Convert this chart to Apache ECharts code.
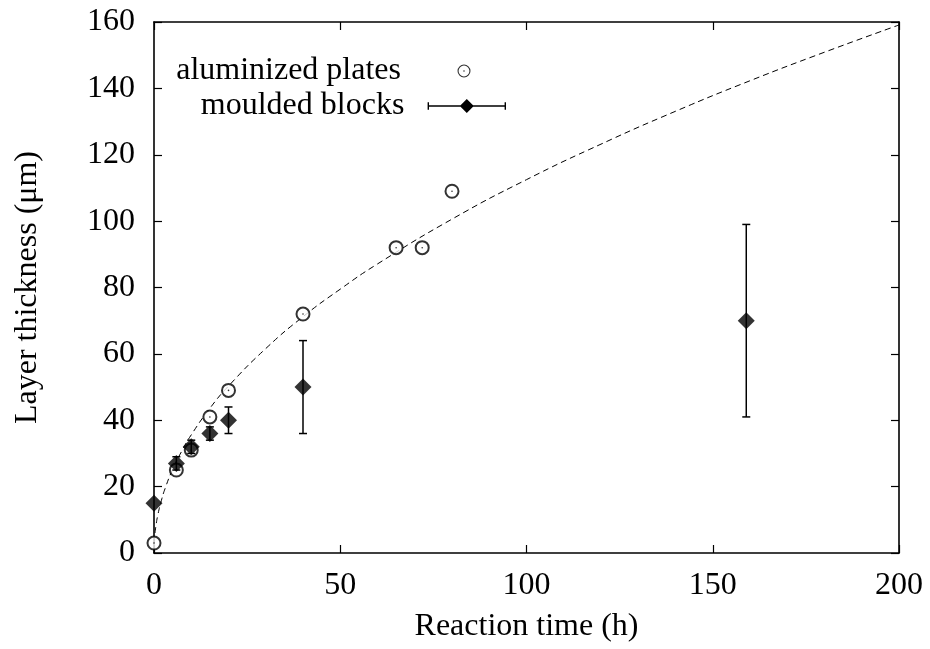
<!DOCTYPE html>
<html>
<head>
<meta charset="utf-8">
<script src="https://cdn.jsdelivr.net/npm/echarts@6/dist/echarts.min.js"></script>
<style>
html,body{margin:0;padding:0;background:#fff;}
#chart{width:930px;height:649px;}
</style>
</head>
<body>
<div id="chart"></div>
<script>
// Data
const xTicks = [0, 50, 100, 150, 200];
const yTicks = [0, 20, 40, 60, 80, 100, 120, 140, 160];

const platesX = [0, 6, 10, 15, 20, 40, 65, 72, 80];
const platesY = [3, 25, 31, 41, 49, 72, 92, 92, 109];

const blocksX  = [0, 6, 10, 15, 20, 40, 159];
const blocksY  = [15, 27, 32, 36, 40, 50, 70];
const blocksLo = [15, 25, 30, 34, 36, 36, 41];
const blocksHi = [15, 29, 34, 38, 44, 64, 99];

// dashed fit curve
const fitX = [0, 0.25, 0.5, 1, 2, 3, 5, 7.5, 10, 15, 20, 30, 40, 50, 60, 80, 100, 120, 140, 160, 180, 200];
const fitY = [0, 5.6, 8, 11.3, 15.9, 19.5, 25.2, 30.8, 35.6, 43.6, 50.3, 61.6, 71.2, 79.5, 87.1, 100.6, 112.5, 123.2, 133.1, 142.3, 150.9, 159.1];

const FONT = 'Liberation Serif';
const FS = 32;

const plates = platesX.map((x, i) => [x, platesY[i]]);
const blocks = blocksX.map((x, i) => [x, blocksY[i]]);
const blockErr = blocksX.map((x, i) => [x, blocksLo[i], blocksHi[i]]);
const fit = fitX.map((x, i) => [x, fitY[i]]);

// legend icons, both 100 x 14 (left 16 px empty) so that the symbols line up
const anchors = 'M0,7 L0.001,7 L0,7.001 Z M100,7 L99.999,7 L100,7.001 Z ';
const ringIcon = 'path://' + anchors +
  'M51.5,7 A6.5,6.5 0 1,1 64.5,7 A6.5,6.5 0 1,1 51.5,7 Z ' +
  'M52.6,7 A5.4,5.4 0 1,0 63.4,7 A5.4,5.4 0 1,0 52.6,7 Z ' +
  'M57.2,7 A0.8,0.8 0 1,1 58.8,7 A0.8,0.8 0 1,1 57.2,7 Z';
const errIcon = 'path://' + anchors +
  'M16,6.2 H100 V7.8 H16 Z M16,3 H17.5 V11 H16 Z M98.5,3 H100 V11 H98.5 Z M58,-0.5 L65.5,7 L58,14.5 L50.5,7 Z';

const chart = echarts.init(document.getElementById('chart'), null, {renderer: 'canvas'});

const axisCommon = {
  type: 'value',
  axisLine: {show: true, onZero: false, lineStyle: {color: '#000', width: 1.6}},
  axisTick: {show: true, inside: true, length: 8, lineStyle: {color: '#000', width: 1.2}},
  splitLine: {show: false},
  axisLabel: {color: '#000', fontFamily: FONT, fontSize: FS}
};

chart.setOption({
  animation: false,
  backgroundColor: '#fff',
  grid: {left: 154, right: 31, top: 22, bottom: 96, containLabel: false},
  legend: [
    {
      orient: 'vertical', align: 'right', right: 424, top: 55, padding: 0,
      itemWidth: 100, itemHeight: 14, selectedMode: false,
      data: [{name: 'aluminized plates', icon: ringIcon,
              itemStyle: {color: '#000', borderWidth: 0}}],
      textStyle: {color: '#000', fontFamily: FONT, fontSize: FS}
    },
    {
      orient: 'vertical', align: 'right', right: 424, top: 90, padding: 0,
      itemWidth: 100, itemHeight: 14, selectedMode: false,
      data: [{name: 'moulded blocks', icon: errIcon,
              itemStyle: {color: '#000', borderWidth: 0}}],
      textStyle: {color: '#000', fontFamily: FONT, fontSize: FS}
    }
  ],
  xAxis: [
    Object.assign({}, axisCommon, {
      min: 0, max: 200, interval: 50, position: 'bottom',
      axisLabel: Object.assign({}, axisCommon.axisLabel, {margin: 17}),
      name: 'Reaction time (h)', nameLocation: 'middle', nameGap: 58,
      nameTextStyle: {color: '#000', fontFamily: FONT, fontSize: FS}
    }),
    Object.assign({}, axisCommon, {
      min: 0, max: 200, interval: 50, position: 'top',
      axisLabel: {show: false}
    })
  ],
  yAxis: [
    Object.assign({}, axisCommon, {
      min: 0, max: 160, interval: 20, position: 'left',
      axisLabel: Object.assign({}, axisCommon.axisLabel, {margin: 19}),
      name: 'Layer thickness (μm)', nameLocation: 'middle', nameGap: 110,
      nameTextStyle: {color: '#000', fontFamily: FONT, fontSize: FS}
    }),
    Object.assign({}, axisCommon, {
      min: 0, max: 160, interval: 20, position: 'right',
      axisLabel: {show: false}
    })
  ],
  series: [
    {
      type: 'line', name: 'fit', data: fit, smooth: true, showSymbol: false,
      lineStyle: {color: '#000', width: 1, type: [6, 4]}, silent: true, z: 1
    },
    {
      type: 'scatter', name: 'aluminized plates', data: plates,
      symbol: 'emptyCircle', symbolSize: 13,
      itemStyle: {color: '#000', borderColor: '#000', borderWidth: 1}, z: 2
    },
    {
      type: 'scatter', name: 'aluminized plates', data: plates,
      symbol: 'circle', symbolSize: 1.6,
      itemStyle: {color: '#000'}, z: 2
    },
    {
      type: 'custom', name: 'moulded blocks', data: blockErr, z: 3,
      renderItem: function (params, api) {
        const x = api.value(0);
        const lo = api.coord([x, api.value(1)]);
        const hi = api.coord([x, api.value(2)]);
        if (Math.abs(hi[1] - lo[1]) < 0.5) return null;
        const w = 4;
        const st = {stroke: '#000', lineWidth: 1.5};
        return {
          type: 'group',
          children: [
            {type: 'line', shape: {x1: lo[0], y1: lo[1], x2: hi[0], y2: hi[1]}, style: st},
            {type: 'line', shape: {x1: lo[0] - w, y1: lo[1], x2: lo[0] + w, y2: lo[1]}, style: st},
            {type: 'line', shape: {x1: hi[0] - w, y1: hi[1], x2: hi[0] + w, y2: hi[1]}, style: st}
          ]
        };
      }
    },
    {
      type: 'scatter', name: 'moulded blocks', data: blocks,
      symbol: 'diamond', symbolSize: [17, 17],
      itemStyle: {color: '#000'}, z: 4
    }
  ]
});
</script>
</body>
</html>
